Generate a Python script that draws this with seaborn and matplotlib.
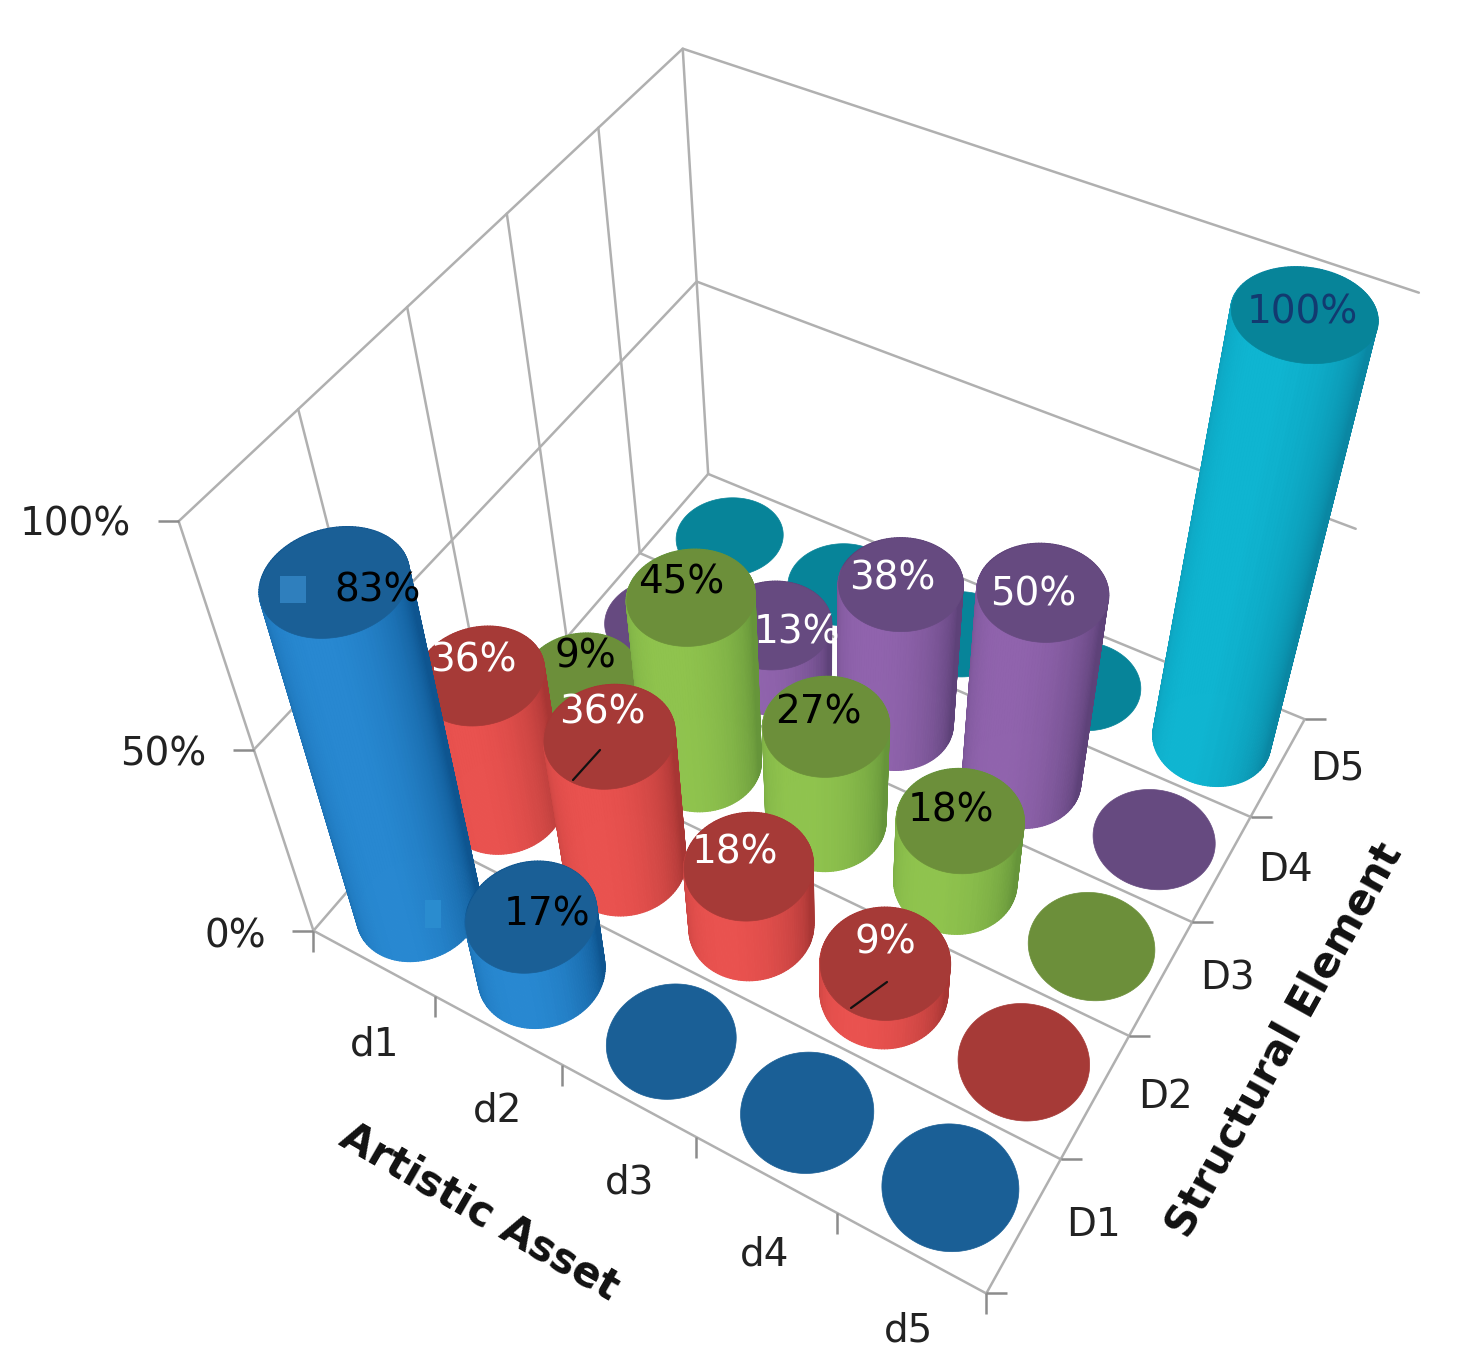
import numpy as np
import matplotlib
matplotlib.use('Agg')
import matplotlib.pyplot as plt
import matplotlib.markers as mmarkers
from matplotlib.lines import Line2D
from matplotlib.patches import Rectangle
from matplotlib.transforms import Affine2D
from mpl_toolkits.mplot3d.art3d import Poly3DCollection
import seaborn as sns

# rows are structural elements, columns are artistic assets
assets = ['d1', 'd2', 'd3', 'd4', 'd5']
elements = ['D1', 'D2', 'D3', 'D4', 'D5']
d1_values = [83, 17, 0, 0, 0]
d2_values = [36, 36, 18, 9, 0]
d3_values = [9, 45, 27, 18, 0]
d4_values = [0, 13, 38, 50, 0]
d5_values = [0, 0, 0, 0, 100]
percent_ticks = [0, 50, 100]

top_colors = ['#1a5f96', '#a63a37', '#6c8f3a', '#664a80', '#078499']
lit_colors = ['#2889d2', '#ea524f', '#90c44e', '#9164ae', '#0fb6d2']
dark_colors = ['#0e5590', '#a83634', '#66953a', '#5e4279', '#0a87a3']
text_colors = ['black', 'white', 'black', 'white', '#123a70']

# where the excel labels sit in the picture, same order as the values
label_pos = [
    [(378, 590), (547, 915), None, None, None],
    [(473, 660), (602, 712), (735, 852), (885, 943), None],
    [(585, 657), (681, 582), (818, 712), (951, 810), None],
    [None, (797, 633), (892, 578), (1033, 594), None],
    [None, None, None, None, (1302, 313)],
]
asset_pos = [(375, 1045), (498, 1110), (630, 1182), (765, 1255), (908, 1330)]
element_pos = [(1093, 1225), (1165, 1097), (1227, 978), (1285, 870), (1337, 768)]
percent_pos = [(235, 937), (163, 755), (75, 525)]

# camera: frame corners (d, D, percent) and where they land in the image
frame_world = [(0, 0, 0), (5, 0, 0), (5, 5, 0), (0, 5, 0), (0, 0, 50), (0, 0, 100),
               (0, 5, 50), (0, 5, 100), (5, 5, 50), (5, 5, 100)]
frame_image = [(317, 930), (985, 1295), (1310, 715), (705, 475), (250, 750), (180, 520),
               (697, 285), (685, 45), (1350, 530), (1420, 295)]
W, H = 1458, 1371

A, b = [], []
for (x, y, z), (u, v) in zip(frame_world, frame_image):
    A.append([x, y, z, 1, 0, 0, 0, 0, -u * x, -u * y, -u * z])
    A.append([0, 0, 0, 0, x, y, z, 1, -v * x, -v * y, -v * z])
    b += [u, v]
p = np.linalg.lstsq(np.array(A, float), np.array(b, float), rcond=None)[0]
P = np.append(p, 1).reshape(3, 4)
# mplot3d masks line points outside -1..1, so the camera has to end up in that range
M = np.vstack([(P[0] - W / 2 * P[2]) / (W / 2), (P[1] - H / 2 * P[2]) / (H / 2), [0, 0, 0, -1], P[2]])
cam = np.linalg.svd(P)[2][-1]
cam = cam[:3] / cam[3]

sns.set_theme(style='white')

fig = plt.figure(figsize=(W / 100, H / 100), dpi=100, facecolor='white')
ax = fig.add_axes([0, 0, 1, 1], projection='3d', computed_zorder=False)
ax.set_axis_off()
ax.get_proj = lambda: M
ax.apply_aspect = lambda position=None: None
ax.viewLim.intervalx = (-1, 1)
ax.viewLim.intervaly = (1, -1)
px = Affine2D().scale(1, -1).translate(0, H)

# frame and grid
line_kw = dict(color='#b0b0b0', lw=1.8, zorder=0)
n = len(assets)
m = len(elements)
for pct in percent_ticks:
    ax.plot([0, 0, n], [0, m, m], [pct, pct, pct], **line_kw)
for j in range(m + 1):
    ax.plot([0, 0], [j, j], [0, 100], **line_kw)
for j in range(m):
    ax.plot([0, n], [j, j], [0, 0], **line_kw)
ax.plot([n, n], [0, m], [0, 0], **line_kw)

tick_kw = dict(ls='', color='#8c8c8c', ms=15, mew=1.8, zorder=0)
ax.plot(np.arange(n + 1), np.zeros(n + 1), np.zeros(n + 1), marker=mmarkers.TICKDOWN, **tick_kw)
ax.plot(np.full(m + 1, n), np.arange(m + 1), np.zeros(m + 1), marker=mmarkers.TICKRIGHT, **tick_kw)
ax.plot(np.zeros(3), np.zeros(3), percent_ticks, marker=mmarkers.TICKLEFT, **tick_kw)

# cylinders, cells are longer along d than along D on screen so the radii differ
values = [d1_values, d2_values, d3_values, d4_values, d5_values]
radius_d = 0.41
radius_D = 0.425
theta = np.linspace(0, 2 * np.pi, 145)
cells = [(i, j) for j in range(m) for i in range(n)]
depth = [P[2] @ [i + 0.5, j + 0.5, 0, 1] for i, j in cells]
order = np.argsort(depth)[::-1]

for k, idx in enumerate(order):
    i, j = cells[idx]
    h = values[j][i]
    cx = i + 0.5 + radius_d * np.cos(theta)
    cy = j + 0.5 + radius_D * np.sin(theta)
    if h > 0:
        shades = sns.blend_palette([dark_colors[j], lit_colors[j]], n_colors=64)
        view = np.arctan2(cam[1] - j - 0.5, cam[0] - i - 0.5) - 0.4
        faces, cols = [], []
        for t in range(len(theta) - 1):
            faces.append([(cx[t], cy[t], 0), (cx[t + 1], cy[t + 1], 0),
                          (cx[t + 1], cy[t + 1], h), (cx[t], cy[t], h)])
            c = max(np.cos((theta[t] + theta[t + 1]) / 2 - view), 0) ** 0.8
            cols.append(shades[int(c * 63)])
        ax.add_collection3d(Poly3DCollection(faces, facecolors=cols, edgecolors=cols,
                                             linewidths=0.8, zorder=2 * k + 1))
    top = Poly3DCollection([list(zip(cx, cy, np.full(len(theta), h)))], facecolors=top_colors[j],
                           edgecolors=top_colors[j], linewidths=0.5, zorder=2 * k + 2)
    ax.add_collection3d(top)


def label(pos, s, **kw):
    fig.text(pos[0], pos[1], s, transform=px, ha='center', va='center',
             family='DejaVu Sans', **kw)


# excel leaves a legend key and two leader lines on the chart
fig.add_artist(Rectangle((280, 576), 26, 27, transform=px, color='#2f7fbd', lw=0))
fig.add_artist(Rectangle((425, 900), 16, 28, transform=px, color='#2a8ccf', lw=0))
for xs, ys in [((573, 600), (780, 750)), ((851, 887), (1008, 982))]:
    fig.add_artist(Line2D(xs, ys, transform=px, color='#111111', lw=1.6))

for j in range(m):
    for i in range(n):
        if values[j][i] > 0:
            label(label_pos[j][i], f'{values[j][i]}%', color=text_colors[j], fontsize=28)

for s, pos in zip(assets, asset_pos):
    label(pos, s, color='#222222', fontsize=28)
for s, pos in zip(elements, element_pos):
    label(pos, s, color='#222222', fontsize=28)
for pct, pos in zip(percent_ticks, percent_pos):
    label(pos, f'{pct}%', color='#222222', fontsize=28)

label((480, 1212), 'Artistic Asset', color='#111111', fontsize=30, fontweight='bold', rotation=-30,
      rotation_mode='anchor')
label((1285, 1040), 'Structural Element', color='#111111', fontsize=30, fontweight='bold', rotation=61,
      rotation_mode='anchor')

fig.savefig('out.png', dpi=100, facecolor='white')
